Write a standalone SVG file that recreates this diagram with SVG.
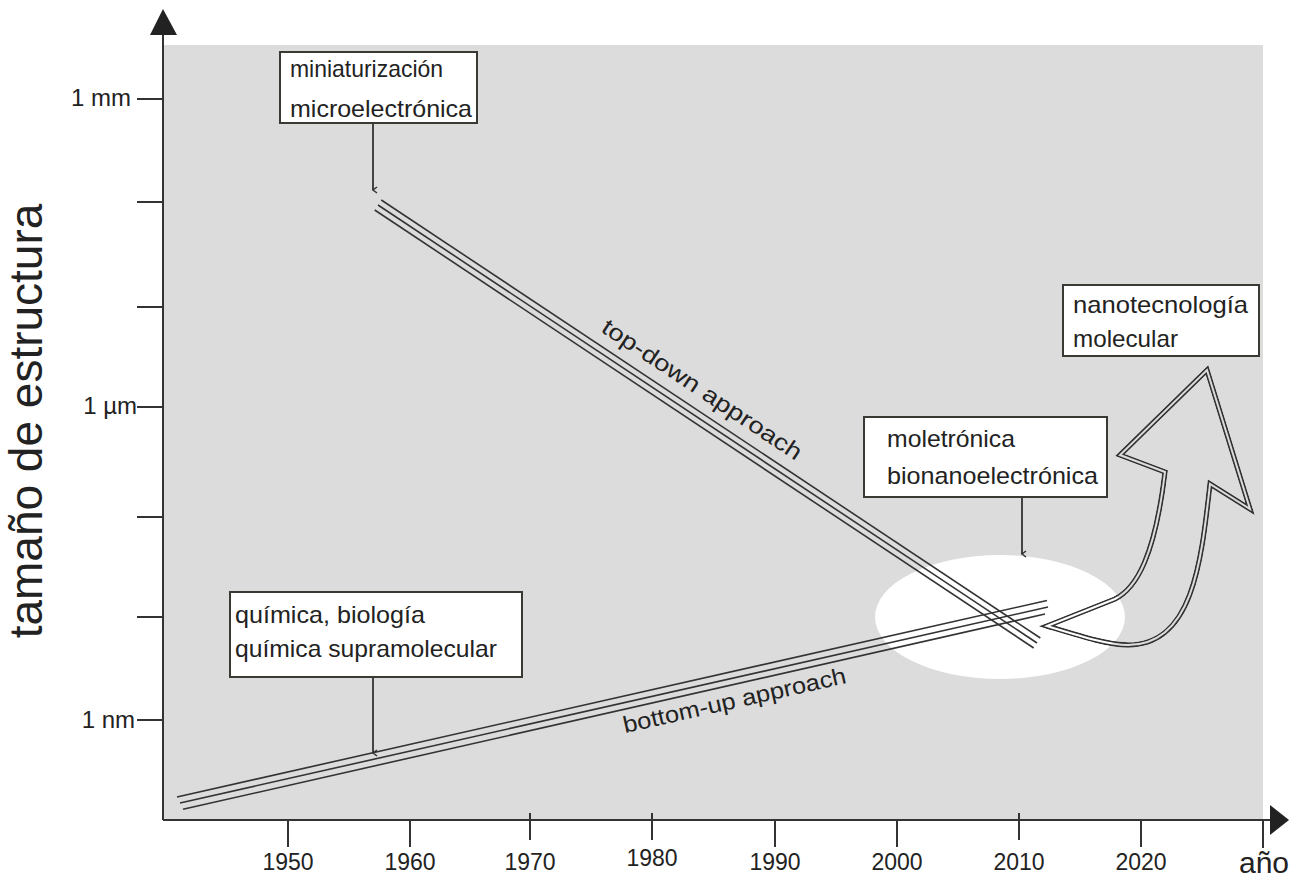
<svg xmlns="http://www.w3.org/2000/svg" xmlns:xlink="http://www.w3.org/1999/xlink" width="1289" height="879" viewBox="0 0 1289 879">
<style>
  .ax { stroke:#333; stroke-width:2; fill:none; }
  .tk { stroke:#333; stroke-width:2; }
  .ln { stroke:#333; stroke-width:1.6; fill:none; }
  .box { fill:#fff; stroke:#3a3a34; stroke-width:2; }
  .con { stroke:#333; stroke-width:1.8; fill:none; marker-end:url(#tip); }
  text { font-family:"Liberation Sans", Arial, sans-serif; fill:#222; }
  .lbl { font-size:24px; }
  .yr { font-size:23px; text-anchor:middle; }
  .yl { font-size:24px; text-anchor:end; }
</style>
<defs>
  <marker id="tip" markerWidth="8" markerHeight="8" refX="4" refY="6" orient="auto" markerUnits="userSpaceOnUse" viewBox="0 0 8 8">
    <path d="M1,2 L4,6 L7,2" fill="none" stroke="#333" stroke-width="1.5"/>
  </marker>
  <path id="bigArrow" fill="none" d="M1047,626 L1115,599 C1137,588 1155,555 1165,472 L1120,455 L1207,370 L1250,509 L1210,484 C1201,565 1192,645 1128,645 C1108,645 1080,636 1047,626 Z"/>
  <mask id="dbl" maskUnits="userSpaceOnUse" x="0" y="0" width="1289" height="879">
    <use xlink:href="#bigArrow" stroke="#fff" stroke-width="5.5" stroke-miterlimit="10"/>
    <use xlink:href="#bigArrow" stroke="#000" stroke-width="2" stroke-miterlimit="10"/>
  </mask>
</defs>

<rect x="163" y="45" width="1100" height="775" fill="#dcdcdc"/>
<ellipse cx="1000" cy="617" rx="125" ry="62" fill="#fff"/>

<g id="axes">
  <line class="ax" x1="163" y1="34" x2="163" y2="820"/>
  <polygon points="163,9 150,35 177,35" fill="#222"/>
  <line class="ax" x1="163" y1="820" x2="1271" y2="820"/>
  <polygon points="1289,820 1270,805 1270,835" fill="#222"/>
  <g class="tk">
    <line x1="137" y1="99" x2="163" y2="99"/>
    <line x1="137" y1="202" x2="163" y2="202"/>
    <line x1="137" y1="307" x2="163" y2="307"/>
    <line x1="137" y1="407" x2="163" y2="407"/>
    <line x1="137" y1="517" x2="163" y2="517"/>
    <line x1="137" y1="617" x2="163" y2="617"/>
    <line x1="137" y1="720" x2="163" y2="720"/>
    <line x1="288" y1="820" x2="288" y2="847"/>
    <line x1="410" y1="820" x2="410" y2="847"/>
    <line x1="530" y1="813" x2="530" y2="840"/>
    <line x1="652" y1="813" x2="652" y2="840"/>
    <line x1="775" y1="820" x2="775" y2="847"/>
    <line x1="897" y1="820" x2="897" y2="847"/>
    <line x1="1019" y1="813" x2="1019" y2="840"/>
    <line x1="1141" y1="820" x2="1141" y2="847"/>
    <line x1="1263" y1="820" x2="1263" y2="848"/>
  </g>
  <text class="yl" x="131" y="106">1 mm</text>
  <text class="yl" x="137" y="414">1 µm</text>
  <text class="yl" x="135" y="728">1 nm</text>
  <text class="yr" x="288" y="870">1950</text>
  <text class="yr" x="410" y="870">1960</text>
  <text class="yr" x="530" y="870">1970</text>
  <text class="yr" x="652" y="866">1980</text>
  <text class="yr" x="775" y="870">1990</text>
  <text class="yr" x="897" y="870">2000</text>
  <text class="yr" x="1019" y="870">2010</text>
  <text class="yr" x="1141" y="870">2020</text>
  <text x="1264" y="873" font-size="30" text-anchor="middle">año</text>
  <text transform="translate(42,421) rotate(-90)" font-size="46" text-anchor="middle">tamaño de estructura</text>
</g>

<g id="connectors">
  <g id="top-down">
    <line class="ln" x1="381.3" y1="200" x2="1040.3" y2="638"/>
    <line class="ln" x1="378" y1="205" x2="1037" y2="643"/>
    <line class="ln" x1="374.7" y1="210" x2="1033.7" y2="648"/>
    <text transform="translate(600,331) rotate(33.6)" font-size="23" textLength="235" lengthAdjust="spacingAndGlyphs">top-down approach</text>
  </g>
  <g id="bottom-up">
    <line class="ln" x1="177" y1="797" x2="1047" y2="600.5"/>
    <line class="ln" x1="180" y1="803" x2="1048" y2="607"/>
    <line class="ln" x1="183" y1="809.3" x2="1045" y2="614"/>
    <text transform="translate(625,733) rotate(-12.7)" font-size="23" textLength="228" lengthAdjust="spacingAndGlyphs">bottom-up approach</text>
  </g>
  <path class="con" d="M373,123 L373,190"/>
  <path class="con" d="M373,677 L373,753"/>
  <path class="con" d="M1022,497 L1022,554"/>
  <use id="arrow-out" xlink:href="#bigArrow" stroke="#333" stroke-width="5.5" stroke-miterlimit="10" mask="url(#dbl)"/>
</g>

<g id="node-miniaturizacion">
  <rect class="box" x="280" y="52" width="197" height="71"/>
  <text class="lbl" x="290" y="77" textLength="153" lengthAdjust="spacingAndGlyphs">miniaturización</text>
  <text class="lbl" x="290" y="117" textLength="182" lengthAdjust="spacingAndGlyphs">microelectrónica</text>
</g>

<g id="node-nanotecnologia">
  <rect class="box" x="1063" y="285" width="196" height="71"/>
  <text class="lbl" x="1073" y="313" textLength="175" lengthAdjust="spacingAndGlyphs">nanotecnología</text>
  <text class="lbl" x="1073" y="347" textLength="105" lengthAdjust="spacingAndGlyphs">molecular</text>
</g>

<g id="node-moletronica">
  <rect class="box" x="864" y="417" width="243" height="80"/>
  <text class="lbl" x="887" y="447" textLength="128" lengthAdjust="spacingAndGlyphs">moletrónica</text>
  <text class="lbl" x="887" y="484" textLength="211" lengthAdjust="spacingAndGlyphs">bionanoelectrónica</text>
</g>

<g id="node-quimica">
  <rect class="box" x="230" y="592" width="292" height="85"/>
  <text class="lbl" x="235" y="623" textLength="190" lengthAdjust="spacingAndGlyphs">química, biología</text>
  <text class="lbl" x="235" y="657" textLength="262" lengthAdjust="spacingAndGlyphs">química supramolecular</text>
</g>
</svg>
